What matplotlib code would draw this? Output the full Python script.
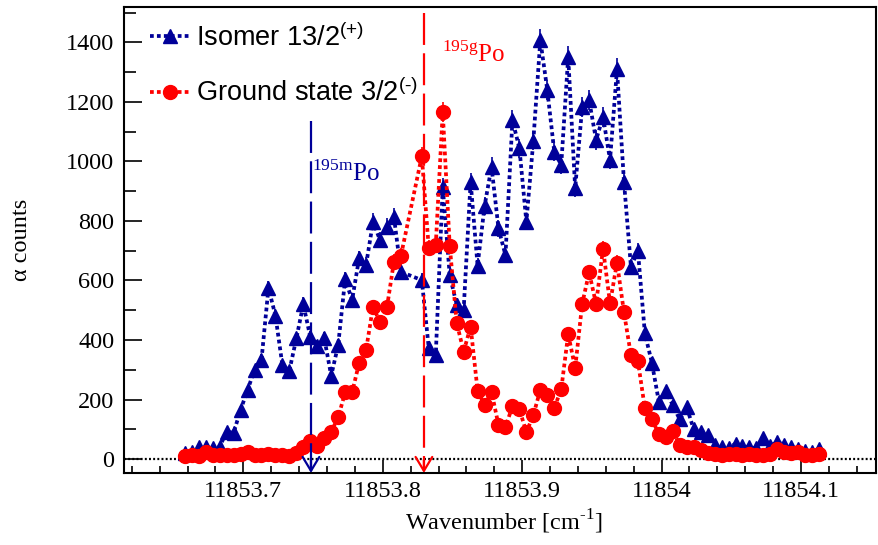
import numpy as np
import matplotlib
matplotlib.use("Agg")
import matplotlib.pyplot as plt

# scan points (cm^-1), two points missing around 11853.82
wavenumber = [
    11853.658, 11853.663, 11853.668, 11853.673, 11853.678, 11853.683, 11853.688, 11853.693,
    11853.698, 11853.703, 11853.708, 11853.713, 11853.718, 11853.723, 11853.728, 11853.733,
    11853.738, 11853.743, 11853.748, 11853.753, 11853.758, 11853.763, 11853.768, 11853.773,
    11853.778, 11853.783, 11853.788, 11853.793, 11853.798, 11853.803, 11853.808, 11853.813,
    11853.828, 11853.833, 11853.838, 11853.843, 11853.848, 11853.853, 11853.858, 11853.863,
    11853.868, 11853.873, 11853.878, 11853.883, 11853.888, 11853.893, 11853.898, 11853.903,
    11853.908, 11853.913, 11853.918, 11853.923, 11853.928, 11853.933, 11853.938, 11853.943,
    11853.948, 11853.953, 11853.958, 11853.963, 11853.968, 11853.973, 11853.978, 11853.983,
    11853.988, 11853.993, 11853.998, 11854.003, 11854.008, 11854.013, 11854.018, 11854.023,
    11854.028, 11854.033, 11854.038, 11854.043, 11854.048, 11854.053, 11854.058, 11854.063,
    11854.068, 11854.073, 11854.078, 11854.083, 11854.088, 11854.093, 11854.098, 11854.103,
    11854.108, 11854.113,
]

isomer = [
    21, 25, 39, 41, 36, 41, 92, 88, 165, 232, 299, 333, 575, 482, 315, 297,
    405, 520, 410, 380, 407, 280, 383, 604, 534, 674, 652, 797, 736, 781, 814, 629,
    601, 372, 349, 915, 618, 519, 501, 932, 650, 850, 982, 775, 685, 1139, 1044, 797,
    1070, 1408, 1240, 1033, 988, 1352, 910, 1182, 1206, 1072, 1150, 1005, 1310, 932,
    646, 700, 422, 324, 193, 229, 181, 133, 174, 100, 92, 81, 47, 41, 36, 52,
    44, 39, 36, 70, 44, 58, 47, 41, 33, 28, 25, 33,
]

ground = [
    10, 12, 10, 22, 15, 12, 12, 15, 17, 22, 12, 15, 17, 15, 12, 10,
    20, 40, 62, 45, 72, 92, 140, 224, 224, 322, 366, 512, 459, 510, 663, 683,
    1018, 708, 719, 1167, 717, 458, 361, 445, 230, 181, 226, 114, 107, 178, 167, 90,
    148, 232, 215, 172, 234, 420, 305, 521, 627, 521, 707, 523, 660, 493,
    349, 329, 170, 134, 84, 73, 95, 47, 41, 41, 30, 19, 18, 15, 17, 16,
    15, 16, 15, 14, 17, 35, 25, 20, 22, 15, 12, 18,
]

# line positions of the two states
pos_m = 11853.7485
pos_g = 11853.8295

BLUE = "#000099"
RED = "#ff0000"
SERIF = ["Liberation Serif", "DejaVu Serif"]

plt.rcParams["font.family"] = SERIF
plt.rcParams["mathtext.fontset"] = "custom"
plt.rcParams["mathtext.rm"] = "Liberation Serif"
plt.rcParams["mathtext.sf"] = "Liberation Sans"
plt.rcParams["lines.scale_dashes"] = False

fig = plt.figure(figsize=(8.79, 5.45), dpi=100)
ax = fig.add_axes([0.1411, 0.1321, 0.8560, 0.8551])

xmin, xmax = 11853.6144, 11854.1541
ymin, ymax = -47, 1519
ax.set_xlim(xmin, xmax)
ax.set_ylim(ymin, ymax)

# zero line
ax.plot([xmin, xmax], [0, 0], color="black", lw=1.6, dashes=(1.4, 1.6), zorder=1)

x = np.array(wavenumber)
yb = np.array(isomer, dtype=float)
yr = np.array(ground, dtype=float)

ax.errorbar(x, yb, yerr=np.sqrt(yb), fmt="none", ecolor=BLUE, elinewidth=1.2, capsize=0, zorder=2)
ax.plot(x, yb, color=BLUE, lw=2.7, dashes=(2.7, 2.3), marker="^", ms=10,
        mec=BLUE, mfc=BLUE, label="Isomer 13/2$^{\\mathsf{(+)}}$", zorder=3)
ax.errorbar(x, yr, yerr=np.sqrt(yr), fmt="none", ecolor=RED, elinewidth=1.2, capsize=0, zorder=4)
ax.plot(x, yr, color=RED, lw=2.7, dashes=(2.7, 2.3), marker="o", ms=10,
        mec=RED, mfc=RED, label="Ground state 3/2$^{\\mathsf{(\\text{-})}}$", zorder=5)

# dashed arrows at the line centres
ax.plot([pos_m, pos_m], [1136, -40], color=BLUE, lw=1.6, dashes=(23, 6), zorder=6)
ax.annotate("", xy=(pos_m, ymin), xytext=(pos_m, ymin + 45),
            arrowprops=dict(arrowstyle="->,head_length=0.5,head_width=0.3", color=BLUE, lw=1.6,
                            mutation_scale=20, shrinkA=0, shrinkB=0), zorder=6)
ax.plot([pos_g, pos_g], [1500, -40], color=RED, lw=1.6, dashes=(23, 6), zorder=6)
ax.annotate("", xy=(pos_g, ymin), xytext=(pos_g, ymin + 45),
            arrowprops=dict(arrowstyle="->,head_length=0.5,head_width=0.3", color=RED, lw=1.6,
                            mutation_scale=20, shrinkA=0, shrinkB=0), zorder=6)

ax.text(11853.7495, 935, "$^{\\mathrm{195m}}$Po", color=BLUE, fontsize=18, va="baseline")
ax.text(11853.8425, 1335, "$^{\\mathrm{195g}}$Po", color=RED, fontsize=18, va="baseline")

# axes in ROOT style
ax.set_xticks([11853.7, 11853.8, 11853.9, 11854.0, 11854.1])
ax.set_xticklabels(["11853.7", "11853.8", "11853.9", "11854", "11854.1"])
ax.set_xticks(np.arange(11853.62, 11854.16, 0.02), minor=True)
ax.set_yticks(range(0, 1401, 200))
ax.set_yticklabels([str(v) for v in range(0, 1401, 200)])
ax.set_yticks(range(0, 1501, 100), minor=True)
ax.tick_params(axis="both", which="both", direction="in", labelsize=17.5)
ax.tick_params(axis="x", which="major", length=9.5, width=1.2, pad=6)
ax.tick_params(axis="x", which="minor", length=5, width=1.2)
ax.tick_params(axis="y", which="major", length=13, width=1.2, pad=7)
ax.tick_params(axis="y", which="minor", length=8.5, width=1.2)
for lab in ax.get_xticklabels() + ax.get_yticklabels():
    lab.set_fontfamily(SERIF)
for sp in ax.spines.values():
    sp.set_linewidth(1.5)

ax.set_xlabel("Wavenumber [cm$^{\\text{-1}}$]", fontsize=17.5)
ax.xaxis.set_label_coords(0.505, -0.075)
ax.set_ylabel("\u03b1 counts", fontsize=17.5)
ax.yaxis.set_label_coords(-0.122, 0.5)

leg = ax.legend(loc="upper left", bbox_to_anchor=(0.0134, 1.0), frameon=False,
                prop={"family": ["Liberation Sans"], "size": 19.5},
                handlelength=1.45, handletextpad=0.25, labelspacing=1.0,
                borderaxespad=0.2)

fig.savefig("out.png", dpi=100)
